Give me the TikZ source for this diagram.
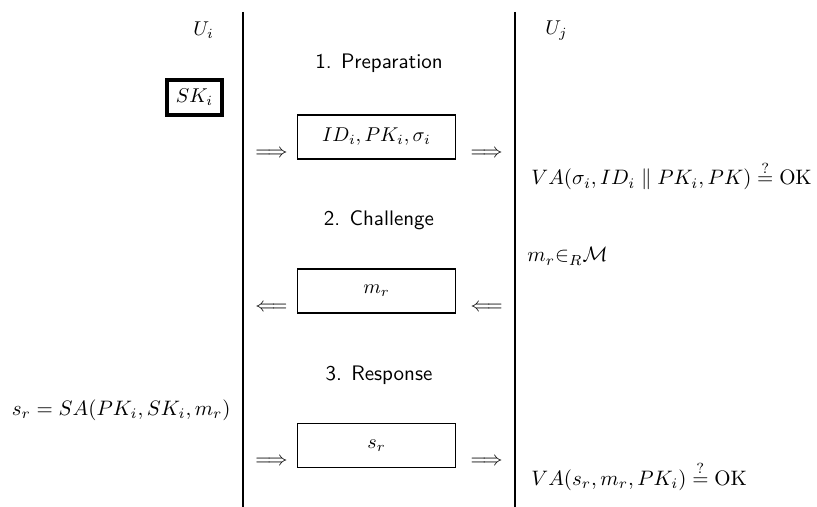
\documentclass[tikz,border=0pt]{standalone}
\usepackage{amsmath}
\usepackage{amssymb}
\usepackage{tikz}
\usetikzlibrary{positioning, calc}
\tikzset{
	msgbox/.style   ={rectangle, draw=black, line width=0.6pt, minimum width=79pt, minimum height=22pt, inner sep=2pt},
	keybox/.style   ={rectangle, draw=black, line width=2pt, minimum width=27.5pt, minimum height=17.5pt, inner sep=2pt},
	phase/.style    ={font=\fontsize{10.5}{12.6}\sffamily, inner sep=0pt},
	dblarrow/.style ={inner sep=0pt},
	party/.style    ={inner sep=0pt, anchor=base west},
	lifeline/.style ={line width=0.8pt},
	calc/.style     ={inner sep=0pt, anchor=base west, scale=1.045, transform shape},
}
\begin{document}
\begin{tikzpicture}[x=0.5pt, y=-0.5pt]
	\useasboundingbox (0,0) rectangle (817,507);
	% the two parties
	\draw[lifeline] (243,12) -- (243,507);
	\draw[lifeline] (515,12) -- (515,507);
	\node[party] (ui) at (193,36) {$U_i$};
	\node[party] (uj) at (545,35) {$U_j$};
	\node[keybox] (sk) at (194.5,97.5) {$SK_i$};
	% phases
	\node[phase] (prep) at (379,63) {1. Preparation};
	\node[phase] (chal) at (379,220) {2. Challenge};
	\node[phase] (resp) at (379,375) {3. Response};
	% messages
	\node[msgbox] (cert) at (376.5,137) {$ID_i, PK_i, \sigma_i$};
	\node[msgbox] (chmsg) at (376.5,291) {$m_r$};
	\node[msgbox] (rsmsg) at (376.5,445.5) {$s_r$};
	\node[dblarrow, anchor=east] (certL) at ([xshift=-4.5pt, yshift=3pt]cert.south west) {$\Longrightarrow$};
	\node[dblarrow, anchor=west] (certR) at ([xshift=7pt, yshift=3pt]cert.south east) {$\Longrightarrow$};
	\node[dblarrow, anchor=east] (chL) at ([xshift=-4.5pt, yshift=3pt]chmsg.south west) {$\Longleftarrow$};
	\node[dblarrow, anchor=west] (chR) at ([xshift=7pt, yshift=3pt]chmsg.south east) {$\Longleftarrow$};
	\node[dblarrow, anchor=east] (rsL) at ([xshift=-4.5pt, yshift=3pt]rsmsg.south west) {$\Longrightarrow$};
	\node[dblarrow, anchor=west] (rsR) at ([xshift=7pt, yshift=3pt]rsmsg.south east) {$\Longrightarrow$};
	% computations
	\node[calc] (ver1) at (531,185) {$VA(\sigma_i, ID_i \parallel PK_i, PK) \stackrel{?}{=} \mathrm{OK}$};
	\node[calc] (pick) at (527,262) {$m_r{\in_R}\mathcal{M}$};
	\node[calc, anchor=base east] (sign) at (231,415) {$s_r = SA(PK_i, SK_i, m_r)$};
	\node[calc] (ver2) at (531,485) {$VA(s_r, m_r, PK_i) \stackrel{?}{=} \mathrm{OK}$};
\end{tikzpicture}
\end{document}
